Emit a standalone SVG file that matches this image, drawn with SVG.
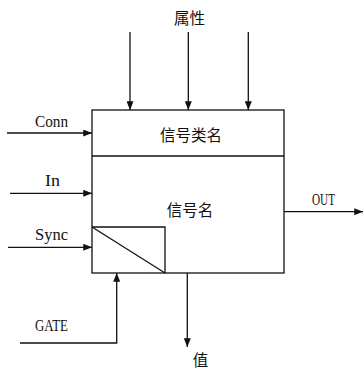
<svg xmlns="http://www.w3.org/2000/svg" width="364" height="368" viewBox="0 0 364 368">
<style>
.ln{stroke:#111;stroke-width:1.3;fill:none}
.lat{font-family:"Liberation Serif",serif;font-size:16.5px;fill:#111}
.cjk{font-family:"Noto Sans CJK SC","Noto Sans CJK JP",sans-serif;font-size:15.5px;fill:#111;text-anchor:middle}
</style>
<defs>
<marker id="ah" viewBox="0 0 10 8" refX="10" refY="4" markerWidth="9" markerHeight="7" markerUnits="userSpaceOnUse" orient="auto">
<path d="M0,0 L10,4 L0,8 Z" fill="#111"/>
</marker>
</defs>
<rect width="364" height="368" fill="#fff"/>
<g id="block">
<rect class="ln" x="92" y="110" width="192" height="163"/>
<line class="ln" x1="92" y1="156" x2="284" y2="156"/>
<text class="cjk" x="191" y="140.5">信号类名</text>
<text class="cjk" x="190" y="215.5">信号名</text>
</g>
<g id="sync-box">
<polyline class="ln" points="92,227 165,227 165,273"/>
<line class="ln" x1="92" y1="227" x2="165" y2="273"/>
</g>
<g id="labels">
<text class="cjk" x="189.5" y="24">属性</text>
<text class="lat" x="35" y="127" textLength="33" lengthAdjust="spacingAndGlyphs">Conn</text>
<text class="lat" x="45" y="186" textLength="15" lengthAdjust="spacingAndGlyphs">In</text>
<text class="lat" x="35" y="240" textLength="33" lengthAdjust="spacingAndGlyphs">Sync</text>
<text class="lat" x="312" y="205" textLength="23" lengthAdjust="spacingAndGlyphs">OUT</text>
<text class="lat" x="35" y="331" textLength="33" lengthAdjust="spacingAndGlyphs">GATE</text>
<text class="cjk" x="200.5" y="365.5">值</text>
</g>
<g id="connectors">
<line class="ln" x1="130" y1="32" x2="130" y2="110" marker-end="url(#ah)"/>
<line class="ln" x1="188.3" y1="32" x2="188.3" y2="110" marker-end="url(#ah)"/>
<line class="ln" x1="248.3" y1="32" x2="248.3" y2="110" marker-end="url(#ah)"/>
<line class="ln" x1="7" y1="133" x2="92" y2="133" marker-end="url(#ah)"/>
<line class="ln" x1="10" y1="193.3" x2="92" y2="193.3" marker-end="url(#ah)"/>
<line class="ln" x1="8" y1="247.3" x2="92" y2="247.3" marker-end="url(#ah)"/>
<line class="ln" x1="284" y1="211.7" x2="363" y2="211.7" marker-end="url(#ah)"/>
<polyline class="ln" points="20,343 116.7,343 116.7,273" marker-end="url(#ah)"/>
<line class="ln" x1="187.3" y1="273" x2="187.3" y2="347" marker-end="url(#ah)"/>
</g>
</svg>
